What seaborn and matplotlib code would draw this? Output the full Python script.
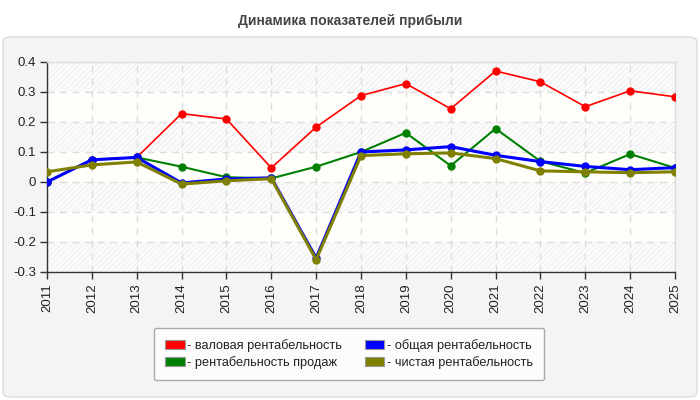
import matplotlib
matplotlib.use("Agg")
import matplotlib.pyplot as plt
import seaborn as sns
import pandas as pd
from matplotlib.patches import FancyBboxPatch

years = list(range(2011, 2026))
gross = [0.0, 0.074, 0.082, 0.228, 0.21, 0.047, 0.183, 0.288, 0.328, 0.244, 0.37, 0.334, 0.251, 0.304, 0.284]
sales = [0.0, 0.074, 0.082, 0.051, 0.016, 0.012, 0.051, 0.1, 0.164, 0.054, 0.178, 0.069, 0.03, 0.093, 0.047]
total = [0.0, 0.074, 0.082, -0.003, 0.01, 0.014, -0.253, 0.1, 0.107, 0.118, 0.089, 0.068, 0.052, 0.041, 0.048]
net = [0.034, 0.057, 0.067, -0.007, 0.004, 0.011, -0.259, 0.088, 0.094, 0.097, 0.078, 0.037, 0.034, 0.031, 0.034]

names = ["- валовая рентабельность", "- рентабельность продаж",
         "- общая рентабельность", "- чистая рентабельность"]
series = [gross, sales, total, net]
colors = ["#ff0000", "#008000", "#0000ff", "#808000"]
widths = [1.2, 1.5, 2.2, 2.2]
yticks = [0.4, 0.3, 0.2, 0.1, 0, -0.1, -0.2, -0.3]

df = pd.DataFrame({"year": years * 4,
                   "value": gross + sales + total + net,
                   "series": sum([[n] * len(years) for n in names], [])})

sns.set_theme(style="white")
plt.rcParams['font.family'] = ['DejaVu Sans']
plt.rcParams['hatch.linewidth'] = 0.5

fig = plt.figure(figsize=(7, 4), dpi=100)
fig.patch.set_facecolor("white")
panel = FancyBboxPatch((3 / 700, 3 / 400), 694 / 700, 360 / 400,
                       boxstyle="round,pad=0,rounding_size=0.012",
                       transform=fig.transFigure, facecolor="#f4f4f4",
                       edgecolor="#dddddd", linewidth=1, zorder=-10)
fig.patches.append(panel)
fig.text(0.5, 0.948, "Динамика показателей прибыли", ha="center", va="center",
         fontsize=10, fontweight="bold", color="#444444", family="Liberation Sans")

ax = fig.add_axes([47 / 700, 1 - 272 / 400, 628 / 700, 210 / 400])
ax.set_zorder(1)
ax.set_facecolor("#fefefa")
for i in range(7):
    lo = 0.4 - 0.1 * (i + 1)
    hi = 0.4 - 0.1 * i
    if i % 2 == 0:
        ax.axhspan(lo, hi, facecolor="#fbfbfb", edgecolor="#ececec",
                   hatch="//////", linewidth=0, zorder=0)

for name, c, w in zip(names, colors, widths):
    sub = df[df["series"] == name]
    sns.lineplot(data=sub, x="year", y="value", ax=ax, color=c, linewidth=w,
                 marker="o", markersize=6, markeredgewidth=0, label=name, zorder=3)

ax.set_xlim(2011, 2025)
ax.set_ylim(-0.3, 0.4)
ax.set_xticks(years)
ax.set_xticklabels([str(y) for y in years], rotation=90, fontsize=9.5,
                   family="Liberation Sans", color="#222222")
ax.set_yticks(yticks)
ax.set_yticklabels([f"{t:g}" for t in yticks], fontsize=9.5,
                   family="Liberation Sans", color="#222222")
ax.set_xlabel("")
ax.set_ylabel("")
ax.grid(True, color="#dddddd", linestyle=(0, (5, 4)), linewidth=1)
ax.set_axisbelow(True)
for s in ["top", "right"]:
    ax.spines[s].set_color("#dddddd")
    ax.spines[s].set_linewidth(1)
for s in ["left", "bottom"]:
    ax.spines[s].set_color("#333333")
    ax.spines[s].set_linewidth(1)
ax.tick_params(axis="both", which="both", direction="out", length=5, width=1,
               color="#333333", pad=3, left=True, bottom=True)

handles = [plt.Rectangle((0, 0), 1, 1, facecolor=c, edgecolor="#999999", linewidth=0.8)
           for c in colors]
leg = ax.legend(handles, names, loc="center", bbox_to_anchor=(349 / 700, 1 - 354 / 400),
                bbox_transform=fig.transFigure, ncol=2, frameon=True,
                prop={"family": "Liberation Sans", "size": 9.2},
                handlelength=1.5, handleheight=0.7, handletextpad=0.2,
                columnspacing=1.8, labelspacing=0.3, borderpad=0.9,
                fancybox=True)
leg.get_frame().set_facecolor("#fcfcfc")
leg.get_frame().set_edgecolor("#aaaaaa")
leg.get_frame().set_alpha(1)
for t in leg.get_texts():
    t.set_color("#222222")

fig.savefig("out.png", dpi=100, facecolor=fig.get_facecolor())
